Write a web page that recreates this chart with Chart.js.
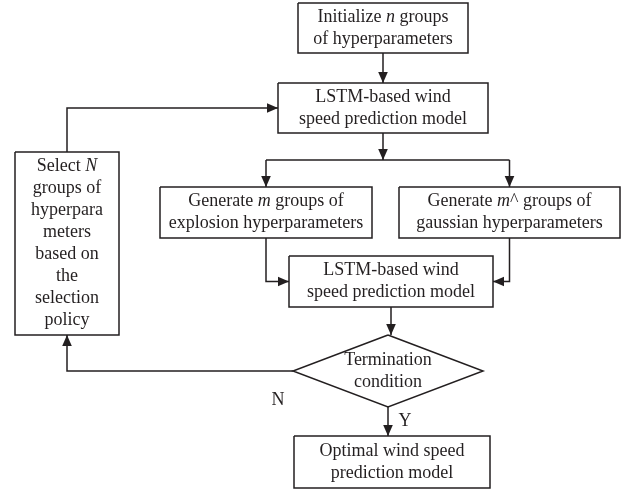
<!DOCTYPE html>
<html>
<head>
<meta charset="utf-8">
<script src="https://cdn.jsdelivr.net/npm/chart.js@4/dist/chart.umd.min.js"></script>
<style>
  html, body { margin: 0; padding: 0; background: #fff; }
  #wrap { width: 633px; height: 490px; }
</style>
</head>
<body>
<div id="wrap"><canvas id="flow" width="633" height="490"></canvas></div>
<script>
// flowchart nodes (chart units, y grows downward)
const nodeLabels = [
  ['Initialize *n* groups', 'of hyperparameters'],
  ['LSTM-based wind', 'speed prediction model'],
  ['Generate *m* groups of', 'explosion hyperparameters'],
  ['Generate *m*^ groups of', 'gaussian hyperparameters'],
  ['LSTM-based wind', 'speed prediction model'],
  ['Termination', 'condition'],
  ['Optimal wind speed', 'prediction model'],
  ['Select *N*', 'groups of', 'hyperpara', 'meters', 'based on', 'the', 'selection', 'policy']
];
const nodeShape = ['box', 'box', 'box', 'box', 'box', 'diamond', 'box', 'box'];
const nodeX = [383, 383, 266, 509.5, 391, 388, 392, 67];
const nodeY = [28, 108, 212.5, 212.5, 281.5, 371, 462, 243.5];
const nodeW = [170, 210, 212, 221, 204, 190, 196, 104];
const nodeH = [50, 50, 51, 51, 51, 72, 52, 183];

// edges: [from, to, routing]
const edges = [
  [0, 1, 'down'],
  [1, 2, 'split'],
  [1, 3, 'split'],
  [2, 4, 'downSide'],
  [3, 4, 'downSide'],
  [4, 5, 'down'],
  [5, 6, 'down'],
  [5, 7, 'leftUp'],
  [7, 1, 'upRight']
];
const edgeLabels = [['N', 5, 'left'], ['Y', 5, 'bottom']];

const ink = '#231f20';
const fontSize = 18;
const lineGap = 22;

function nLeft(i) { return nodeX[i] - nodeW[i] / 2; }
function nRight(i) { return nodeX[i] + nodeW[i] / 2; }
function nTop(i) { return nodeY[i] - nodeH[i] / 2; }
function nBottom(i) { return nodeY[i] + nodeH[i] / 2; }

function shapePoints(i) {
  if (nodeShape[i] === 'diamond') {
    return [
      { x: nodeX[i], y: nTop(i) }, { x: nRight(i), y: nodeY[i] },
      { x: nodeX[i], y: nBottom(i) }, { x: nLeft(i), y: nodeY[i] },
      { x: nodeX[i], y: nTop(i) }
    ];
  }
  return [
    { x: nLeft(i), y: nTop(i) }, { x: nRight(i), y: nTop(i) },
    { x: nRight(i), y: nBottom(i) }, { x: nLeft(i), y: nBottom(i) },
    { x: nLeft(i), y: nTop(i) }
  ];
}

function edgePoints(e) {
  const a = e[0], b = e[1], kind = e[2];
  if (kind === 'down') {
    return [{ x: nodeX[a], y: nBottom(a) }, { x: nodeX[a], y: nTop(b) }];
  }
  if (kind === 'split') {
    const midY = (nBottom(a) + nTop(b)) / 2;
    return [{ x: nodeX[b], y: midY }, { x: nodeX[b], y: nTop(b) }];
  }
  if (kind === 'downSide') {
    const side = nodeX[a] < nodeX[b] ? nLeft(b) : nRight(b);
    return [{ x: nodeX[a], y: nBottom(a) }, { x: nodeX[a], y: nodeY[b] }, { x: side, y: nodeY[b] }];
  }
  if (kind === 'leftUp') {
    return [{ x: nLeft(a), y: nodeY[a] }, { x: nodeX[b], y: nodeY[a] }, { x: nodeX[b], y: nBottom(b) }];
  }
  if (kind === 'upRight') {
    return [{ x: nodeX[a], y: nTop(a) }, { x: nodeX[a], y: nodeY[b] }, { x: nLeft(b), y: nodeY[b] }];
  }
  return [];
}

// horizontal bar joining the split branches
function splitBar() {
  const s = edges.filter(e => e[2] === 'split');
  const xs = s.map(e => nodeX[e[1]]);
  const y = (nBottom(s[0][0]) + nTop(s[0][1])) / 2;
  return [
    [{ x: Math.min(...xs), y: y }, { x: Math.max(...xs), y: y }],
    [{ x: nodeX[s[0][0]], y: nBottom(s[0][0]) }, { x: nodeX[s[0][0]], y: y }]
  ];
}

const lineStyle = {
  showLine: true, borderColor: ink, backgroundColor: ink, borderWidth: 1.5,
  pointRadius: 0, pointHoverRadius: 0, fill: false, tension: 0,
  borderJoinStyle: 'miter', borderCapStyle: 'butt'
};

const datasets = [];
nodeLabels.forEach((l, i) => datasets.push(Object.assign({ data: shapePoints(i), kind: 'node' }, lineStyle)));
edges.forEach(e => datasets.push(Object.assign({ data: edgePoints(e), kind: 'edge' }, lineStyle)));
const bar = splitBar();
datasets.push(Object.assign({ data: bar[0], kind: 'bar' }, lineStyle));
datasets.push(Object.assign({ data: bar[1], kind: 'edge' }, lineStyle));

function drawRich(ctx, text, cx, cy) {
  const parts = text.split('*').map((t, k) => ({ t: t, it: k % 2 === 1 })).filter(p => p.t.length);
  const fontOf = p => (p.it ? 'italic ' : '') + fontSize + 'px "Liberation Serif", serif';
  let w = 0;
  parts.forEach(p => { ctx.font = fontOf(p); p.w = ctx.measureText(p.t).width; w += p.w; });
  let x = cx - w / 2;
  parts.forEach(p => { ctx.font = fontOf(p); ctx.fillText(p.t, x, cy); x += p.w; });
}

const flowPlugin = {
  id: 'flow',
  afterDatasetsDraw(chart) {
    const ctx = chart.ctx;
    const sx = chart.scales.x, sy = chart.scales.y;
    ctx.save();
    ctx.fillStyle = ink;
    // arrow heads
    chart.data.datasets.forEach(ds => {
      if (ds.kind !== 'edge') return;
      const n = ds.data.length;
      const p1 = ds.data[n - 2], p2 = ds.data[n - 1];
      const x1 = sx.getPixelForValue(p1.x), y1 = sy.getPixelForValue(p1.y);
      const x2 = sx.getPixelForValue(p2.x), y2 = sy.getPixelForValue(p2.y);
      const ang = Math.atan2(y2 - y1, x2 - x1);
      const len = 11, half = 4.8;
      ctx.beginPath();
      ctx.moveTo(x2, y2);
      ctx.lineTo(x2 - len * Math.cos(ang) + half * Math.sin(ang), y2 - len * Math.sin(ang) - half * Math.cos(ang));
      ctx.lineTo(x2 - len * Math.cos(ang) - half * Math.sin(ang), y2 - len * Math.sin(ang) + half * Math.cos(ang));
      ctx.closePath();
      ctx.fill();
    });
    // node texts
    ctx.textBaseline = 'middle';
    ctx.textAlign = 'left';
    nodeLabels.forEach((lines, i) => {
      const n = lines.length;
      lines.forEach((t, k) => {
        const vy = nodeY[i] + (k - (n - 1) / 2) * lineGap;
        drawRich(ctx, t, sx.getPixelForValue(nodeX[i]), sy.getPixelForValue(vy));
      });
    });
    // branch labels
    edgeLabels.forEach(l => {
      const i = l[1];
      let vx, vy;
      if (l[2] === 'left') { vx = nLeft(i) - 15; vy = nodeY[i] + 29; }
      else { vx = nodeX[i] + 17; vy = nBottom(i) + 14; }
      drawRich(ctx, l[0], sx.getPixelForValue(vx), sy.getPixelForValue(vy));
    });
    ctx.restore();
  }
};

new Chart(document.getElementById('flow'), {
  type: 'scatter',
  data: { datasets: datasets },
  options: {
    responsive: false,
    animation: false,
    events: [],
    layout: { padding: 0 },
    plugins: { legend: { display: false }, tooltip: { enabled: false } },
    scales: {
      x: { type: 'linear', min: 0, max: 633, display: false },
      y: { type: 'linear', min: 0, max: 490, reverse: true, display: false }
    }
  },
  plugins: [flowPlugin]
});
</script>
</body>
</html>
